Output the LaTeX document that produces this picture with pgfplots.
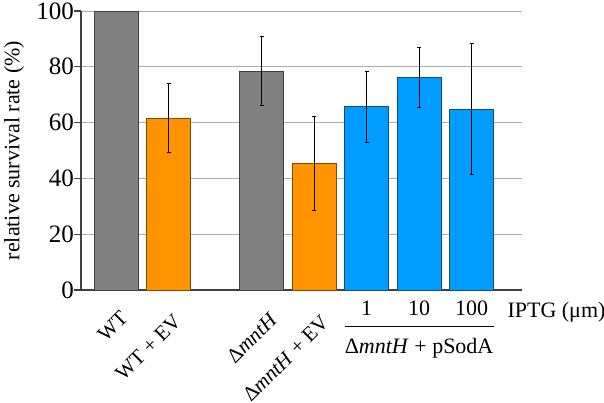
\documentclass[border=0pt]{standalone}
\usepackage{pgfplots}
\pgfplotsset{compat=1.18}
\usepackage{fontspec}
\setmainfont{Liberation Serif}
\definecolor{barGray}{HTML}{808080}
\definecolor{barOrange}{HTML}{FF9400}
\definecolor{barBlue}{HTML}{009CFF}
\definecolor{edgeBlue}{HTML}{1A4A70}
\definecolor{edgeOrange}{HTML}{7A4A10}

\begin{document}
\begin{tikzpicture}
\path[use as bounding box] (-81pt,-112pt) rectangle (523pt,290pt);
\begin{axis}[
  at={(0,0)}, anchor=south west,
  scale only axis, width=441pt, height=279pt,
  font=\fontsize{22}{26}\selectfont,
  /pgf/number format/assume math mode=true,
  xmin=-0.67, xmax=7.73, ymin=0, ymax=100,
  axis x line*=bottom, axis y line*=left,
  axis line style={draw=black!75, line width=1.2pt},
  ytick={0,20,40,60,80,100},
  ytick style={draw=black!75, line width=1.2pt},
  tick align=outside, major tick length=7pt,
  yticklabel style={anchor=east, inner sep=0pt, font=\fontsize{25}{28}\selectfont},
  ymajorgrids, grid style={draw=black!32, line width=1pt},
  % IPTG concentrations under the pSodA bars
  xtick={4.77,5.77,6.77},
  xticklabels={1,10,100},
  xtick style={draw=none},
  xticklabel style={anchor=north, inner sep=0pt, yshift=-4pt},
  ylabel={relative survival rate (\%)},
  ylabel style={at={(axis description cs:-0.152,0.5)}, anchor=center},
  ybar, bar width=0.84,
  error bars/y dir=both, error bars/y explicit,
  error bars/error bar style={line width=0.9pt, black},
  error bars/error mark options={rotate=90, mark size=2pt, line width=0.9pt, black},
  clip=false,
]
\addplot[bar shift=0pt, fill=barGray, draw=black!75, line width=0.8pt, forget plot] coordinates {(0,100)};
\addplot[bar shift=0pt, fill=barGray, draw=black!75, line width=0.8pt] coordinates {(2.77,78.5) +- (0,12.4)};
\addplot[bar shift=0pt, fill=barOrange, draw=edgeOrange, line width=0.8pt] coordinates {(1,61.6) +- (0,12.4) (3.77,45.3) +- (0,16.9)};
\addplot[bar shift=0pt, fill=barBlue, draw=edgeBlue, line width=0.8pt] coordinates {(4.77,65.7) +- (0,12.8) (5.77,76.2) +- (0,10.7) (6.77,64.8) +- (0,23.5)};
% rotated category names
\tikzset{catlabel/.style={rotate=45, anchor=north east, inner sep=0pt, font=\fontsize{21}{25}\selectfont}}
\node[catlabel] at ([xshift=3pt, yshift=-19pt]axis cs:0,0) {WT};
\node[catlabel] at ([xshift=4pt, yshift=-23pt]axis cs:1,0) {WT + EV};
\node[catlabel] at ([xshift=7pt, yshift=-21pt]axis cs:2.77,0) {Δ\textit{mntH}};
\node[catlabel] at ([xshift=6pt, yshift=-24pt]axis cs:3.77,0) {Δ\textit{mntH} + EV};
\draw[line width=1.8pt] ([yshift=-36.5pt]axis cs:4.35,0) -- ([yshift=-36.5pt]axis cs:7.19,0);
\node[anchor=base, inner sep=0pt] at ([yshift=-63pt]axis cs:5.77,0) {Δ\textit{mntH} + pSodA};
\node[anchor=base west, inner sep=0pt] at ([yshift=-27pt]axis cs:7.45,0) {IPTG (μm)};
\end{axis}
\end{tikzpicture}
\end{document}
